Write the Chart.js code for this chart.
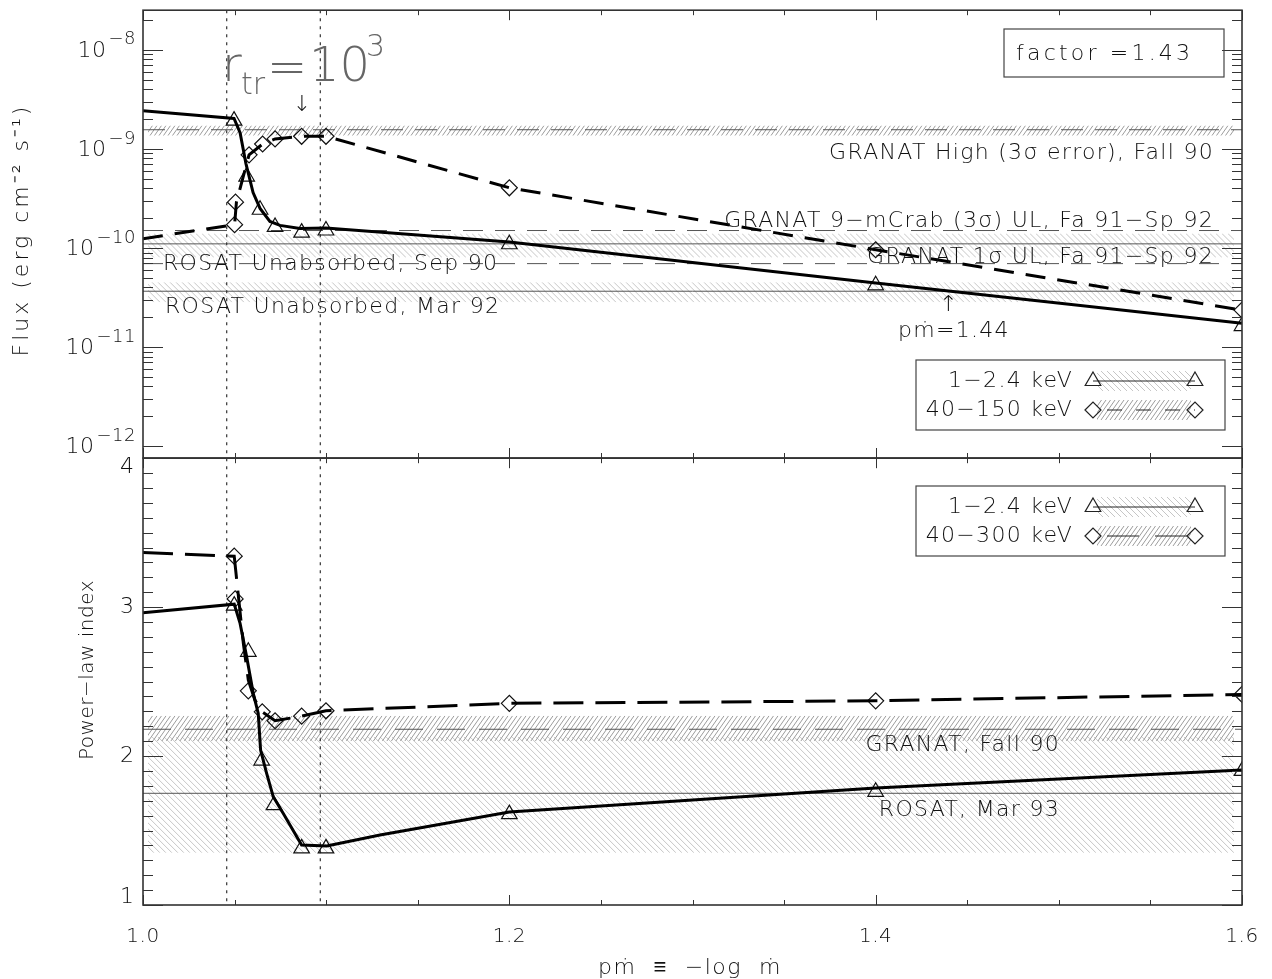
<!DOCTYPE html>
<html>
<head>
<meta charset="utf-8">
<title>pm flux / power-law index</title>
<script src="https://cdn.jsdelivr.net/npm/chart.js@4.4.0/dist/chart.umd.min.js"></script>
<style>
    html, body { margin: 0; padding: 0; background: #fff; }
    #wrap { position: relative; width: 1272px; height: 979px; overflow: hidden; }
    #flux-box { position: absolute; left: 0; top: 0; width: 1272px; height: 470px; }
    #index-box { position: absolute; left: 0; top: 448px; width: 1272px; height: 531px; }
</style>
</head>
<body>
<div id="wrap">
    <div id="flux-box"><canvas id="flux-chart"></canvas></div>
    <div id="index-box"><canvas id="index-chart"></canvas></div>
</div>
<script>
// 横轴 pm = -log mdot
const xMajorTicks = [1.0, 1.2, 1.4, 1.6];
const xTickLabels = ['1.0', '1.2', '1.4', '1.6'];
const xMinorStep = 0.05;
// 两条竖直点线
const transitionX = [1.0457, 1.0968];

// 上图：流量 (对数轴)
const fluxMin = 7.59e-13;
const fluxMax = 2.51e-8;
const fluxDecades = [-12, -11, -10, -9, -8];

// 1-2.4 keV
const softFluxCurveX = [1.0, 1.0497, 1.0530, 1.0562, 1.0601, 1.0639, 1.0693, 1.0748, 1.0857, 1.0999, 1.2, 1.4, 1.6];
const softFluxCurveY = [2.43e-9, 2.03e-9, 1.46e-9, 7.1e-10, 3.63e-10, 2.51e-10, 1.85e-10, 1.69e-10, 1.57e-10, 1.59e-10, 1.15e-10, 4.44e-11, 1.74e-11];
const softFluxPtsX = [1.0497, 1.0566, 1.0639, 1.0721, 1.0866, 1.0999, 1.2, 1.4, 1.6];
const softFluxPtsY = [1.93e-9, 5.26e-10, 2.43e-10, 1.63e-10, 1.43e-10, 1.50e-10, 1.09e-10, 4.2e-11, 1.63e-11];

// 40-150 keV
const hardFluxCurveX = [1.0, 1.0500, 1.0510, 1.0579, 1.0653, 1.0721, 1.0866, 1.0999, 1.2, 1.4, 1.6];
const hardFluxCurveY = [1.24e-10, 1.72e-10, 2.9e-10, 8.7e-10, 1.12e-9, 1.26e-9, 1.34e-9, 1.34e-9, 4.05e-10, 9.6e-11, 2.36e-11];
const hardFluxPtsX = [1.0500, 1.0505, 1.0579, 1.0653, 1.0721, 1.0866, 1.0999, 1.2, 1.4, 1.6];
const hardFluxPtsY = [1.72e-10, 2.9e-10, 8.71e-10, 1.12e-9, 1.26e-9, 1.34e-9, 1.34e-9, 4.05e-10, 9.6e-11, 2.36e-11];

// 观测参考值 [下限, 值, 上限]
const granatHighFlux = [1.36e-9, 1.56e-9, 1.72e-9];
const granat9mCrabFlux = 1.50e-10;
const rosatSep90Flux = [8.0e-11, 1.10e-10, 1.40e-10];
const granat1SigmaFlux = 6.95e-11;
const rosatMar92Flux = [2.83e-11, 3.66e-11, 4.51e-11];
const rtrArrowX = 1.087;
const markedPm = 1.44;
const fluxFactor = 1.43;

// 下图：幂律指数
const indexMin = 1;
const indexMax = 4;
const indexMajorTicks = [1, 2, 3, 4];
const indexMinorStep = 0.1;

const softIndexCurveX = [1.0, 1.0498, 1.0530, 1.0566, 1.0602, 1.0629, 1.0642, 1.0675, 1.0711, 1.0766, 1.0866, 1.1003, 1.1294, 1.2, 1.4, 1.6];
const softIndexCurveY = [2.962, 3.020, 2.891, 2.666, 2.421, 2.287, 2.040, 1.884, 1.727, 1.615, 1.403, 1.396, 1.470, 1.624, 1.785, 1.906];
const softIndexPtsX = [1.0498, 1.0575, 1.0648, 1.0715, 1.0866, 1.0999, 1.2, 1.4, 1.6];
const softIndexPtsY = [3.01, 2.70, 1.97, 1.67, 1.38, 1.38, 1.61, 1.76, 1.90];

const hardIndexCurveX = [1.0, 1.0498, 1.0507, 1.0526, 1.0548, 1.0575, 1.0611, 1.0651, 1.0721, 1.0866, 1.0999, 1.2, 1.4, 1.6];
const hardIndexCurveY = [3.367, 3.342, 3.237, 3.013, 2.756, 2.510, 2.376, 2.297, 2.237, 2.268, 2.304, 2.354, 2.371, 2.414];
const hardIndexPtsX = [1.0498, 1.0503, 1.0575, 1.0651, 1.0721, 1.0866, 1.0999, 1.2, 1.4, 1.6];
const hardIndexPtsY = [3.342, 3.055, 2.438, 2.297, 2.237, 2.268, 2.304, 2.354, 2.371, 2.414];

const granatFall90Index = [2.10, 2.18, 2.27];
const rosatMar93Index = [1.35, 1.75, 2.13];

const FONT = '"DejaVu Sans", "Liberation Sans", sans-serif';
const INK = '#111';

document.addEventListener('DOMContentLoaded', () => {
    // 上图
    initFluxChart();
    // 下图
    initIndexChart();
});

// 设置字体和字距
function setText(ctx, size, spacing) {
    ctx.font = '200 ' + size + 'px ' + FONT;
    ctx.letterSpacing = (spacing || 0) + 'px';
}

function toPoints(xs, ys) {
    return xs.map((x, i) => ({ x: x, y: ys[i] }));
}

function curveDataset(xs, ys, dash) {
    return {
        data: toPoints(xs, ys),
        showLine: true,
        borderColor: '#000',
        borderWidth: 3,
        borderDash: dash,
        pointRadius: 0,
        tension: 0
    };
}

function markerDataset(xs, ys, style, radius) {
    return {
        data: toPoints(xs, ys),
        showLine: false,
        pointStyle: style,
        pointRadius: radius,
        pointBorderWidth: 1.2,
        pointBorderColor: '#111',
        pointBackgroundColor: 'rgba(0,0,0,0)'
    };
}

// 斜线阴影
function drawHatch(ctx, left, right, yTop, yBot, dir, color, gap, slant) {
    ctx.save();
    ctx.beginPath();
    ctx.rect(left, yTop, right - left, yBot - yTop);
    ctx.clip();
    ctx.strokeStyle = color;
    ctx.lineWidth = 1;
    const dx = (yBot - yTop) * slant;
    ctx.beginPath();
    for (let x = left - dx - gap; x < right + gap; x += gap) {
        if (dir > 0) {
            ctx.moveTo(x, yBot);
            ctx.lineTo(x + dx, yTop);
        } else {
            ctx.moveTo(x, yTop);
            ctx.lineTo(x + dx, yBot);
        }
    }
    ctx.stroke();
    ctx.restore();
}

function hLine(ctx, area, py, dash) {
    ctx.save();
    ctx.strokeStyle = '#555';
    ctx.lineWidth = 1;
    ctx.setLineDash(dash || []);
    ctx.beginPath();
    ctx.moveTo(area.left, py);
    ctx.lineTo(area.right, py);
    ctx.stroke();
    ctx.restore();
}

function granatHatch(ctx, area, yTop, yBot) {
    drawHatch(ctx, area.left + 5, area.right - 8, yTop, yBot, 1, '#9c9c9c', 4.5, 0.7);
}

function rosatHatch(ctx, area, yTop, yBot) {
    drawHatch(ctx, area.left + 5, area.right - 8, yTop, yBot, -1, '#c6c6c6', 6, 1.0);
}

function drawTransitions(chart) {
    const { ctx, chartArea: a, scales: { x } } = chart;
    ctx.save();
    ctx.strokeStyle = '#333';
    ctx.lineWidth = 1.2;
    ctx.setLineDash([3, 5]);
    transitionX.forEach(v => {
        const px = x.getPixelForValue(v);
        ctx.beginPath();
        ctx.moveTo(px, a.top);
        ctx.lineTo(px, a.bottom);
        ctx.stroke();
    });
    ctx.restore();
}

// 边框与内向刻度
function drawFrame(chart, yTicks) {
    const { ctx, chartArea: a, scales: { x } } = chart;
    ctx.save();
    ctx.strokeStyle = '#333';
    ctx.lineWidth = 1;
    ctx.beginPath();
    const n = Math.round((1.6 - 1.0) / xMinorStep);
    for (let i = 0; i <= n; i++) {
        const v = 1.0 + i * xMinorStep;
        const major = xMajorTicks.some(t => Math.abs(t - v) < 1e-6);
        const len = major ? 10 : 5;
        const px = Math.round(x.getPixelForValue(v)) + 0.5;
        ctx.moveTo(px, a.bottom);
        ctx.lineTo(px, a.bottom - len);
        ctx.moveTo(px, a.top);
        ctx.lineTo(px, a.top + len);
    }
    yTicks.forEach(t => {
        const py = Math.round(t.py) + 0.5;
        const len = t.major ? 20 : 10;
        ctx.moveTo(a.left, py);
        ctx.lineTo(a.left + len, py);
        ctx.moveTo(a.right, py);
        ctx.lineTo(a.right - len, py);
    });
    ctx.stroke();
    ctx.lineWidth = 1.6;
    ctx.strokeRect(a.left, a.top, a.right - a.left, a.bottom - a.top);
    ctx.restore();
}

function triangle(ctx, x, y, r) {
    ctx.beginPath();
    ctx.moveTo(x, y - r);
    ctx.lineTo(x + r * 0.866, y + r / 2);
    ctx.lineTo(x - r * 0.866, y + r / 2);
    ctx.closePath();
    ctx.stroke();
}

function diamond(ctx, x, y, r) {
    ctx.beginPath();
    ctx.moveTo(x - r, y);
    ctx.lineTo(x, y - r);
    ctx.lineTo(x + r, y);
    ctx.lineTo(x, y + r);
    ctx.closePath();
    ctx.stroke();
}

// 图例框
function drawLegend(ctx, top, hardLabel, hardDash) {
    const left = 916, right = 1225, x0 = 1093, x1 = 1195;
    ctx.save();
    ctx.strokeStyle = '#444';
    ctx.lineWidth = 1.2;
    ctx.strokeRect(left, top, right - left, 70);

    const y1 = top + 21, y2 = top + 50;
    rosatHatch(ctx, { left: x0 - 1, right: x1 + 4 }, y1 - 10, y1 + 10);
    granatHatch(ctx, { left: x0 - 1, right: x1 + 4 }, y2 - 10, y2 + 10);

    ctx.strokeStyle = '#222';
    ctx.lineWidth = 1;
    ctx.beginPath();
    ctx.moveTo(x0, y1);
    ctx.lineTo(x1, y1);
    ctx.stroke();
    ctx.save();
    ctx.setLineDash(hardDash);
    ctx.lineDashOffset = -8;
    ctx.beginPath();
    ctx.moveTo(x0 + 6, y2);
    ctx.lineTo(x1, y2);
    ctx.stroke();
    ctx.restore();

    ctx.lineWidth = 1.2;
    triangle(ctx, x0, y1, 9);
    triangle(ctx, x1, y1, 9);
    diamond(ctx, x0, y2, 8);
    diamond(ctx, x1, y2, 8);

    ctx.fillStyle = INK;
    setText(ctx, 22, 1.3);
    ctx.textAlign = 'right';
    ctx.textBaseline = 'middle';
    ctx.fillText('1\u22122.4 keV', 1073, y1);
    ctx.fillText(hardLabel, 1073, y2);
    ctx.restore();
}

function drawXLabels(chart) {
    const { ctx, chartArea: a, scales: { x } } = chart;
    ctx.save();
    ctx.fillStyle = INK;
    setText(ctx, 20, 0.5);
    ctx.textAlign = 'center';
    ctx.textBaseline = 'middle';
    xMajorTicks.forEach((v, i) => {
        ctx.fillText(xTickLabels[i], x.getPixelForValue(v), a.bottom + 32);
    });
    setText(ctx, 22, 1.5);
    ctx.fillText('p\u1E41  \u2261  \u2212log  \u1E41', 690, a.bottom + 63);
    ctx.restore();
}

// 初始化上图
function initFluxChart() {
    const ctx = document.getElementById('flux-chart').getContext('2d');

    const decor = {
        id: 'fluxDecor',
        beforeDatasetsDraw(chart) {
            const { ctx, chartArea: a, scales: { y } } = chart;
            const p = v => y.getPixelForValue(v);
            granatHatch(ctx, a, p(granatHighFlux[2]), p(granatHighFlux[0]));
            rosatHatch(ctx, a, p(rosatSep90Flux[2]), p(rosatSep90Flux[0]));
            rosatHatch(ctx, a, p(rosatMar92Flux[2]), p(rosatMar92Flux[0]));
            hLine(ctx, a, p(granatHighFlux[1]), [22, 12]);
            hLine(ctx, a, p(granat9mCrabFlux), [20, 12]);
            hLine(ctx, a, p(rosatSep90Flux[1]));
            hLine(ctx, a, p(granat1SigmaFlux), [20, 12]);
            hLine(ctx, a, p(rosatMar92Flux[1]));
            drawTransitions(chart);
        },
        afterDatasetsDraw(chart) {
            const { ctx, chartArea: a, scales: { x, y } } = chart;
            const p = v => y.getPixelForValue(v);

            // 刻度
            const ticks = [];
            fluxDecades.forEach(e => {
                for (let m = 1; m <= 9; m++) {
                    const v = m * Math.pow(10, e);
                    if (v >= fluxMin && v <= fluxMax) ticks.push({ py: p(v), major: m === 1 });
                }
            });
            drawFrame(chart, ticks);

            ctx.save();
            ctx.fillStyle = INK;
            ctx.textBaseline = 'middle';

            // 纵轴标签 10^n
            fluxDecades.forEach(e => {
                const py = p(Math.pow(10, e));
                const sup = '\u2212' + Math.abs(e);
                ctx.textAlign = 'right';
                setText(ctx, 18, 0.5);
                const w = ctx.measureText(sup).width;
                ctx.fillText(sup, 136, py - 10);
                setText(ctx, 22, 0.5);
                ctx.fillText('10', 134 - w, py + 1);
            });

            // 纵轴标题
            ctx.save();
            ctx.translate(22, 230);
            ctx.rotate(-Math.PI / 2);
            ctx.textAlign = 'center';
            setText(ctx, 22, 3);
            ctx.fillText('Flux (erg cm\u207B\u00B2 s\u207B\u00B9)', 0, 0);
            ctx.restore();

            // 参考线说明
            setText(ctx, 22, 1.3);
            ctx.textAlign = 'right';
            ctx.fillText('GRANAT High (3\u03C3 error), Fall 90', 1214, p(granatHighFlux[1]) + 24);
            ctx.fillText('GRANAT 9\u2212mCrab (3\u03C3) UL, Fa 91\u2212Sp 92', 1214, p(granat9mCrabFlux) - 9);
            ctx.fillText('GRANAT 1\u03C3 UL, Fa 91\u2212Sp 92', 1214, p(granat1SigmaFlux) - 6);
            ctx.textAlign = 'left';
            ctx.fillText('ROSAT Unabsorbed, Sep 90', 163, p(rosatSep90Flux[1]) + 20);
            ctx.fillText('ROSAT Unabsorbed, Mar 92', 165, p(rosatMar92Flux[1]) + 16);

            // 箭头
            ctx.textAlign = 'center';
            ctx.fillText('\u2193', x.getPixelForValue(rtrArrowX), 105);
            ctx.fillText('\u2191', x.getPixelForValue(markedPm), p(rosatMar92Flux[1]) + 14);
            ctx.textAlign = 'left';
            ctx.fillText('p\u1E41=' + markedPm.toFixed(2), 898, p(rosatMar92Flux[1]) + 40);

            // r_tr = 10^3
            ctx.fillStyle = '#666';
            ctx.textBaseline = 'alphabetic';
            setText(ctx, 48, 0);
            ctx.fillText('r', 222, 81);
            ctx.fillText('=', 267, 83);
            ctx.fillText('10', 309, 81);
            setText(ctx, 30, 0);
            ctx.fillText('tr', 241, 94);
            ctx.fillText('3', 366, 56);

            // factor 框
            ctx.strokeStyle = '#444';
            ctx.lineWidth = 1.2;
            ctx.strokeRect(1004, 29, 220, 48);
            ctx.fillStyle = INK;
            setText(ctx, 22, 3.2);
            ctx.textBaseline = 'middle';
            ctx.fillText('factor =' + fluxFactor.toFixed(2), 1016, 54);
            ctx.restore();

            drawLegend(ctx, 360, '40\u2212150 keV', [15, 14]);
        }
    };

    new Chart(ctx, {
        type: 'scatter',
        data: {
            datasets: [
                curveDataset(softFluxCurveX, softFluxCurveY, []),
                curveDataset(hardFluxCurveX, hardFluxCurveY, [20, 12]),
                markerDataset(softFluxPtsX, softFluxPtsY, 'triangle', 9),
                markerDataset(hardFluxPtsX, hardFluxPtsY, 'rectRot', 8)
            ]
        },
        options: {
            responsive: true,
            maintainAspectRatio: false,
            animation: false,
            events: [],
            layout: { padding: { left: 143, right: 30, top: 9, bottom: 12 } },
            plugins: { legend: { display: false }, tooltip: { enabled: false } },
            scales: {
                x: { type: 'linear', min: 1.0, max: 1.6, display: false },
                y: { type: 'logarithmic', min: fluxMin, max: fluxMax, display: false }
            }
        },
        plugins: [decor]
    });
}

// 初始化下图
function initIndexChart() {
    const ctx = document.getElementById('index-chart').getContext('2d');

    const decor = {
        id: 'indexDecor',
        beforeDatasetsDraw(chart) {
            const { ctx, chartArea: a, scales: { y } } = chart;
            const p = v => y.getPixelForValue(v);
            rosatHatch(ctx, a, p(rosatMar93Index[2]), p(rosatMar93Index[0]));
            granatHatch(ctx, a, p(granatFall90Index[2]), p(granatFall90Index[0]));
            hLine(ctx, a, p(granatFall90Index[1]), [28, 14]);
            hLine(ctx, a, p(rosatMar93Index[1]));
            drawTransitions(chart);
        },
        afterDatasetsDraw(chart) {
            const { ctx, chartArea: a, scales: { y } } = chart;
            const p = v => y.getPixelForValue(v);

            const ticks = [];
            const n = Math.round((indexMax - indexMin) / indexMinorStep);
            for (let i = 0; i <= n; i++) {
                const v = indexMin + i * indexMinorStep;
                ticks.push({ py: p(v), major: i % 10 === 0 });
            }
            drawFrame(chart, ticks);

            ctx.save();
            ctx.fillStyle = INK;
            ctx.textBaseline = 'middle';
            ctx.textAlign = 'right';
            setText(ctx, 22, 0);
            indexMajorTicks.forEach(v => {
                const py = Math.min(Math.max(p(v), a.top + 9), a.bottom - 8);
                ctx.fillText(String(v), 134, py);
            });

            ctx.save();
            ctx.translate(88, 670 - 448);
            ctx.rotate(-Math.PI / 2);
            ctx.textAlign = 'center';
            setText(ctx, 20, 0.5);
            ctx.fillText('Power\u2212law index', 0, 0);
            ctx.restore();

            setText(ctx, 22, 1.3);
            ctx.textAlign = 'right';
            ctx.fillText('GRANAT, Fall 90', 1060, p(granatFall90Index[1]) + 16);
            ctx.fillText('ROSAT, Mar 93', 1060, p(rosatMar93Index[1]) + 17);
            ctx.restore();

            drawLegend(ctx, 486 - 448, '40\u2212300 keV', [32, 16]);
            drawXLabels(chart);
        }
    };

    new Chart(ctx, {
        type: 'scatter',
        data: {
            datasets: [
                curveDataset(softIndexCurveX, softIndexCurveY, []),
                curveDataset(hardIndexCurveX, hardIndexCurveY, [30, 12]),
                markerDataset(softIndexPtsX, softIndexPtsY, 'triangle', 9),
                markerDataset(hardIndexPtsX, hardIndexPtsY, 'rectRot', 8)
            ]
        },
        options: {
            responsive: true,
            maintainAspectRatio: false,
            animation: false,
            events: [],
            layout: { padding: { left: 143, right: 30, top: 10, bottom: 74 } },
            plugins: { legend: { display: false }, tooltip: { enabled: false } },
            scales: {
                x: { type: 'linear', min: 1.0, max: 1.6, display: false },
                y: { type: 'linear', min: indexMin, max: indexMax, display: false }
            }
        },
        plugins: [decor]
    });
}
</script>
</body>
</html>
